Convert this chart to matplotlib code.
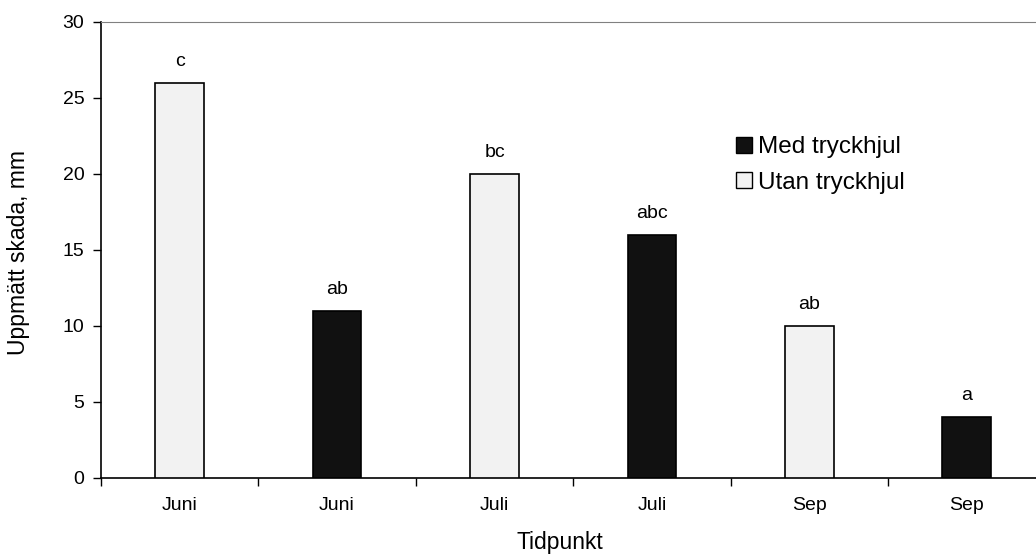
import matplotlib.pyplot as plt
import numpy as np
from matplotlib.patches import Patch

plt.rcParams["font.family"] = ["Liberation Sans", "DejaVu Sans"]

months = ["Juni", "Juni", "Juli", "Juli", "Sep", "Sep"]
values = [26, 11, 20, 16, 10, 4]
with_wheel = [False, True, False, True, False, True]
letters = ["c", "ab", "bc", "abc", "ab", "a"]

light = "#f2f2f2"
dark = "#111111"

W, H = 1036, 556
fig = plt.figure(figsize=(W / 100, H / 100), dpi=100)
ax = fig.add_axes([101 / W, 78 / H, 935 / W, 456 / H])

x = np.arange(len(values))
colors = [dark if w else light for w in with_wheel]
ax.bar(x, values, width=0.31, color=colors, edgecolor="black", linewidth=1.2, zorder=3)

for xi, v, lab in zip(x, values, letters):
    ax.text(xi, v + 1.1, lab, ha="center", va="baseline", fontsize=14)

ax.set_xlim(-0.5, -0.5 + 935 / 157.4)
ax.set_ylim(0, 30)
ax.set_yticks(np.arange(0, 31, 5))
ax.tick_params(axis="y", labelsize=14, length=6, width=1, direction="out", pad=6)

# slot boundaries get tick marks, labels sit in slot centres
ax.set_xticks(np.arange(-0.5, 5.0, 1.0))
ax.set_xticklabels([])
ax.tick_params(axis="x", length=6, width=1, direction="out")
ax.set_xticks(x, minor=True)
ax.set_xticklabels(months, minor=True, fontsize=14)
ax.tick_params(axis="x", which="minor", length=0, pad=14)

ax.spines["right"].set_visible(False)
ax.spines["top"].set_color("#808080")
ax.spines["left"].set_linewidth(1.2)
ax.spines["bottom"].set_linewidth(1.2)

fig.text(19 / W, 1 - 252 / H, "Uppmätt skada, mm", rotation=90,
         ha="center", va="center", fontsize=16.5)
fig.text(560 / W, 1 - 543 / H, "Tidpunkt", ha="center", va="center", fontsize=16.5)

handles = [
    Patch(facecolor=dark, edgecolor="black", label="Med tryckhjul"),
    Patch(facecolor=light, edgecolor="black", label="Utan tryckhjul"),
]
ax.legend(
    handles=handles,
    loc="center left",
    bbox_to_anchor=((736 - 101) / 935, (478 - 165) / 456),
    frameon=False,
    fontsize=17.5,
    borderpad=0,
    borderaxespad=0,
    handlelength=0.66,
    handleheight=0.66,
    handletextpad=0.25,
    labelspacing=0.55,
)

fig.savefig("out.png", dpi=100)
